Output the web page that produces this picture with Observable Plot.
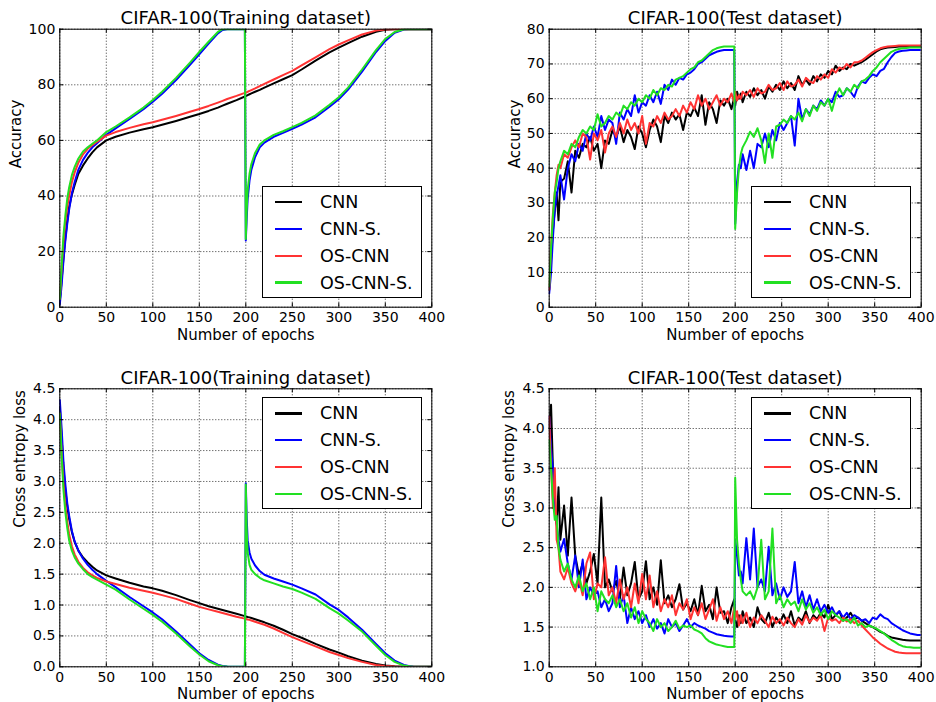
<!DOCTYPE html>
<html><head><meta charset="utf-8">
<script src="https://cdn.jsdelivr.net/npm/d3@7"></script>
<script src="https://cdn.jsdelivr.net/npm/@observablehq/plot@0.6"></script>
<style>
body{margin:0;background:#fff;}
#wrap{position:relative;width:936px;height:702px;overflow:hidden;background:#fff;font-family:"DejaVu Sans",sans-serif;}
.panel{position:absolute;width:468px;height:351px;}
.panel svg{overflow:visible;max-width:none;}
.legend{position:absolute;width:160px;height:112px;box-sizing:border-box;border:1px solid #000;background:#fff;}
.row{position:absolute;left:0;width:100%;height:0;}
.sw{position:absolute;left:12px;width:27px;height:2.5px;top:-1.25px;}
.lab{position:absolute;left:57px;top:-11px;font-size:17.5px;line-height:22px;color:#000;white-space:nowrap;font-family:"DejaVu Sans",sans-serif;}
#err{position:absolute;left:0;top:0;color:red;font-size:12px;}
</style>
</head><body><div id="wrap"></div>
<script>
// ---------- shared ----------
const seriesNames = ["CNN", "CNN-S.", "OS-CNN", "OS-CNN-S."];
const seriesColors = ["#000000", "#0000ff", "#ff3333", "#22e022"];
const xTicks = [0, 50, 100, 150, 200, 250, 300, 350, 400];
const accTrainTicks = [0, 20, 40, 60, 80, 100];
const accTestTicks = [0, 10, 20, 30, 40, 50, 60, 70, 80];
const lossTrainTicks = [0, 0.5, 1, 1.5, 2, 2.5, 3, 3.5, 4, 4.5];
const lossTestTicks = [1, 1.5, 2, 2.5, 3, 3.5, 4, 4.5];

// ---------- training epochs ----------
const epochsTrain = [0,2,4,6,8,10,13,16,20,25, 30,35,40,50,60,75,90,100,110,125,
  140,150,160,170,175,180,190,199,200,201, 202,204,206,210,215,220,230,240,250,260,
  275,290,300,310,325,340,350,360,370,375, 380,390,400];

// training accuracy
const trainAccCNN = [2,10,18,25,31,36,40.5,44,48,51, 53.5,55.7,57.5,60,61.3,62.8,64,64.7,65.6,67,
  68.5,69.5,70.6,71.8,72.5,73.2,74.5,75.8,76,76.1, 76.3,76.6,76.9,77.5,78.2,79,80.5,82,83.5,85.5,
  88.7,91.7,93.4,95,97.3,99.1,99.8,100,100,100, 100,100,100];
const trainAccCNNS = [1,8,17,24,30,35,41,45,49.5,53, 55.5,57.5,59,62,64.3,67.7,71.2,73.9,76.8,81.7,
  87.2,91,94.8,98.5,99.7,100,100,100,24,32, 39,45.5,49.5,54,57.5,59.2,61.3,62.7,64.2,65.7,
  68.3,72.1,74.8,78.3,84.7,91.8,95.8,98.7,99.9,100, 100,100,100];
const trainAccOSCNN = [3,14,24,31,36,40,45,48.5,52,55, 57,58.3,59.5,61.7,63,64.5,65.8,66.5,67.4,68.8,
  70.3,71.3,72.4,73.6,74.2,74.9,76,77.1,77.2,77.3, 77.5,77.8,78.1,78.7,79.5,80.3,81.9,83.5,85,87,
  89.9,92.8,94.5,96,98.1,99.5,99.9,100,100,100, 100,100,100];
const trainAccOSCNNS = [3,15,26,33,39,43,47.5,50.5,53.5,56, 57.5,58.8,60,63,65,68.3,71.8,74.5,77.5,82.5,
  88,91.8,95.5,99,100,100,100,100,24.5,35, 42,48,51.5,55.5,58.5,60,62,63.3,64.8,66.3,
  69,72.8,75.5,79,85.5,92.5,96.5,99,100,100, 100,100,100];

// training loss
const trainLossCNN = [4.2,3.7,3.2,2.85,2.6,2.4,2.18,2.02,1.88,1.77, 1.69,1.62,1.56,1.48,1.43,1.36,1.3,1.27,1.23,1.16,
  1.08,1.03,0.98,0.94,0.92,0.9,0.86,0.82,0.815,0.81, 0.805,0.8,0.79,0.77,0.745,0.72,0.665,0.6,0.53,0.47,
  0.37,0.28,0.23,0.17,0.1,0.045,0.022,0.008,0.002,0, 0,0,0];
const trainLossCNNS = [4.32,3.85,3.3,2.95,2.65,2.45,2.2,2.03,1.88,1.75, 1.65,1.57,1.5,1.39,1.29,1.13,0.98,0.88,0.77,0.57,
  0.36,0.22,0.11,0.035,0.015,0.006,0.001,0,2.97,2.4, 2.05,1.85,1.75,1.64,1.55,1.49,1.43,1.38,1.33,1.27,
  1.17,1.01,0.92,0.8,0.6,0.37,0.22,0.1,0.03,0.013, 0.005,0.001,0];
const trainLossOSCNN = [4.1,3.45,2.95,2.6,2.35,2.15,1.95,1.82,1.7,1.6, 1.53,1.48,1.44,1.38,1.34,1.28,1.23,1.2,1.16,1.1,
  1.02,0.97,0.93,0.89,0.87,0.85,0.81,0.78,0.775,0.77, 0.765,0.76,0.75,0.73,0.705,0.68,0.62,0.55,0.48,0.42,
  0.33,0.24,0.19,0.14,0.08,0.03,0.012,0.004,0.001,0, 0,0,0];
const trainLossOSCNNS = [4.1,3.4,2.85,2.5,2.25,2.05,1.88,1.77,1.67,1.58, 1.5,1.45,1.41,1.33,1.25,1.09,0.94,0.84,0.73,0.54,
  0.33,0.2,0.09,0.025,0.01,0.003,0,0,2.95,2.2, 1.85,1.65,1.57,1.5,1.44,1.4,1.35,1.3,1.26,1.2,
  1.1,0.95,0.86,0.75,0.57,0.34,0.19,0.08,0.02,0.008, 0.002,0,0];

// ---------- test epochs ----------
const epochsTest = [0,2,4,6,8,10,12,16,20,24, 28,32,36,40,44,48,52,56,60,64,
  68,72,76,80,84,88,92,96,100,104, 108,112,116,120,124,128,132,136,140,144,
  148,152,156,160,164,168,172,176,180,184, 188,192,196,199,200,202,204,206,208,212,
  216,220,224,228,232,236,240,244,248,252, 256,260,264,268,272,276,280,284,288,292,
  296,300,304,308,312,316,320,324,328,332, 336,340,344,348,352,356,360,364,368,372,
  376,380,384,388,392,396,400];

// test accuracy
const testAccCNN = [5,14,22,28,33,25,36,37,42,33, 45,43,47,46,49,45,47,40,48,47,
  51,49,52,47.5,51,49,45.5,52,50,46, 51,54,52,47.5,55,53,56,54,55.5,51,
  56,55,57.5,55,61,52.5,59,57,53,59.5, 58,60,57,60.5,58,62,60,61.5,59,62,
  60.5,63,61,62.5,60,63.5,62,64,62.5,65, 63,64.5,62.5,66.5,64,65.5,64,66.5,65,67,
  66,68,67,69.5,68,69,68.5,70,69.5,70, 70.5,71.2,72,72.8,73.6,74.2,74.5,74.7,74.8,74.9,
  75,75,75,75.1,75.1,75.1,75.1];
const testAccCNNS = [4,10,20,28,32,35,38,31,40,44, 42,47,45,50,48,52,49,55,51,54,
  53,47,56,54,57,55,61,56,59,58, 61,59,62,58.5,64,62.5,65.5,64,66,65.5,
  67,67.5,68.5,70,70.5,71.5,72.5,73,73.5,73.8, 74,74,74,74,24,36,41,40,44,39.5,
  45,40,47,46,50,46,51,48,53,51, 53,55,46.5,60,54,57,55.5,58,57,59.5,
  58,60,59,62,60.5,61,63,62,60.5,63.5, 65,64.5,66,67,66.5,68,68.6,70.5,72,73.2,
  73.6,73.8,73.9,74,74,74,74];
const testAccOSCNN = [5,18,27,33,38,41,40,44,43,46, 48,46,50,49,42.5,50,48,51,44.5,50,
  52,49,53,50,54,51,53,50,55,47, 53,52,55,53,56,54,55,57,55,58,
  56,59,57,61,58,60,57,59,61,58, 60,59,61.5,59,62,59.5,61,60,62,61,
  62.5,60.5,63,61.5,62,64,62.5,63,64.5,62.5, 65,63.5,64,65.5,63.5,66,65,64.5,66.5,65.5,
  67,66,68.5,67.5,69,68.5,70,69,70.5,70.5, 71,71.8,72.6,73.4,74,74.5,74.8,75,75.1,75.2,
  75.3,75.3,75.3,75.3,75.3,75.3,75.3];
const testAccOSCNNS = [6,17,26,33,36,40,42,45,44,47, 46,49,51,50,52,51,55.5,52,53,55,
  54,56,55,58,57,59,58,60,59,61, 60,62.5,61,63,62.5,64,63.5,65.5,66,66.5,
  67.5,68.5,69,70.5,71,72,73,74,74.5,74.8, 75,75,75,75,22.5,33,40,44,46,48,
  50.5,49,51.5,48,41.5,50,43,52,52.5,54, 53,55,54,56,53.5,57,55,58,56.5,59,
  58,60,56.5,60.5,63,61,63,62,64,63, 65,65.5,66.5,68,69,70.5,71.5,72.5,73.5,74,
  74.3,74.5,74.6,74.7,74.7,74.7,74.7];

// test loss
const testLossCNN = [4.0,4.3,3.5,3.0,2.8,3.26,2.6,3.03,2.4,3.13, 2.4,2.15,2.3,2.05,2.2,2.42,2.05,3.13,2.0,2.1,
  1.95,2.08,1.85,2.25,1.9,2.05,2.32,1.85,1.95,2.33, 1.85,2.0,1.78,2.34,1.8,1.9,1.75,1.85,2.04,1.72,
  1.8,1.7,1.85,1.65,2.02,1.7,1.78,1.6,2.0,1.68, 1.7,1.55,1.75,1.85,1.6,1.5,1.65,1.55,1.7,1.55,
  1.62,1.5,1.75,1.6,1.55,1.68,1.5,1.62,1.55,1.66, 1.55,1.7,1.52,1.62,1.58,1.7,1.55,1.65,1.6,1.68,
  1.62,1.78,1.6,1.65,1.7,1.58,1.62,1.68,1.6,1.62, 1.58,1.55,1.52,1.5,1.47,1.44,1.42,1.39,1.37,1.36,
  1.35,1.34,1.335,1.33,1.33,1.33,1.33];
const testLossCNNS = [4.15,3.75,3.5,3.0,2.8,2.6,2.45,2.61,2.3,2.1, 2.4,2.0,2.35,1.85,2.0,1.9,1.95,1.75,1.85,1.7,
  1.8,2.27,1.75,1.9,1.55,1.75,1.6,1.7,1.55,1.65, 1.5,1.6,1.48,1.55,1.42,1.6,1.5,1.55,1.45,1.52,
  1.6,1.5,1.55,1.52,1.5,1.48,1.45,1.43,1.41,1.4, 1.39,1.385,1.38,1.38,2.6,2.4,2.15,2.2,2.05,2.62,
  2.1,2.74,2.0,2.1,1.95,2.51,1.9,2.05,1.85,2.0, 1.88,1.95,2.32,1.8,1.95,1.75,1.9,1.72,1.85,1.7,
  1.78,1.68,1.75,1.65,1.7,1.62,1.68,1.6,1.65,1.62, 1.58,1.6,1.55,1.62,1.6,1.66,1.62,1.6,1.55,1.52,
  1.49,1.46,1.44,1.42,1.41,1.4,1.4];
const testLossOSCNN = [4.15,3.5,3.0,3.5,2.6,2.5,2.2,2.1,2.25,2.05, 1.95,2.1,1.9,2.3,2.44,1.85,2.05,2.0,2.38,1.9,
  2.0,1.8,2.1,1.85,2.0,1.75,2.05,1.8,2.17,1.85, 2.15,1.75,1.95,1.7,1.85,1.75,1.9,1.65,1.8,1.72,
  1.85,1.6,1.75,1.65,1.8,1.6,1.72,1.85,1.58,1.75, 1.6,1.7,1.55,1.75,1.6,1.7,1.52,1.65,1.55,1.68,
  1.5,1.62,1.55,1.65,1.58,1.5,1.63,1.55,1.6,1.52, 1.62,1.55,1.5,1.6,1.53,1.65,1.56,1.62,1.58,1.65,
  1.45,1.62,1.58,1.6,1.55,1.62,1.57,1.6,1.55,1.58, 1.52,1.47,1.42,1.37,1.33,1.29,1.26,1.23,1.21,1.19,
  1.18,1.175,1.17,1.17,1.17,1.17,1.17];
const testLossOSCNNS = [3.85,3.5,3.1,2.85,2.9,2.5,2.35,2.2,2.3,2.1, 2.0,2.15,1.95,2.05,1.85,2.0,1.7,1.95,1.85,1.8,
  1.9,1.75,1.85,1.7,1.8,1.62,1.75,1.55,1.7,1.6, 1.55,1.45,1.6,1.5,1.55,1.45,1.5,1.58,1.48,1.52,
  1.5,1.52,1.47,1.45,1.42,1.36,1.32,1.3,1.28,1.27, 1.26,1.25,1.25,1.25,3.38,2.6,2.3,2.1,1.95,1.9,
  1.95,1.85,2.0,2.6,1.85,1.95,2.74,1.8,1.9,1.75, 1.85,1.78,1.82,1.7,1.85,1.72,1.8,1.68,1.75,1.65,
  1.72,1.6,1.7,1.65,1.62,1.58,1.6,1.55,1.62,1.52, 1.55,1.5,1.52,1.5,1.48,1.45,1.42,1.38,1.34,1.31,
  1.28,1.26,1.25,1.245,1.24,1.24,1.24];

// ---------- drawing ----------
const wrap = document.getElementById("wrap");
const errs = [];
const fmt1 = d3.format(".1f");

function makePanel(cfg) {
  const rows = [];
  cfg.values.forEach((vals, k) => {
    if (vals.length !== cfg.epochs.length) errs.push(cfg.title + " " + seriesNames[k] + " len " + vals.length + "/" + cfg.epochs.length);
    vals.forEach((v, i) => rows.push({epoch: cfg.epochs[i], value: v, series: seriesNames[k]}));
  });
  const W = 468, H = 351;
  const fw = W - cfg.ml - cfg.mr, fh = H - cfg.mt - cfg.mb;
  const grid = {stroke: "#000", strokeOpacity: 1, strokeWidth: 0.8, strokeDasharray: "1,2"};
  const plot = Plot.plot({
    width: W, height: H,
    marginTop: cfg.mt, marginBottom: cfg.mb, marginLeft: cfg.ml, marginRight: cfg.mr,
    x: {domain: [0, 400]},
    y: {domain: cfg.yDomain},
    style: {fontFamily: "DejaVu Sans", fontSize: "14px", color: "#000", background: "#fff", overflow: "visible"},
    marks: [
      Plot.gridX(xTicks, grid),
      Plot.gridY(cfg.yTicks, grid),
      ...seriesNames.map((name, k) => Plot.line(rows.filter(r => r.series === name), {
        x: "epoch", y: "value", stroke: seriesColors[k], strokeWidth: 2, clip: true, curve: "linear"
      })),
      Plot.tickX(xTicks, {x: d => d, insetTop: fh - 4, stroke: "#000"}),
      Plot.tickX(xTicks, {x: d => d, insetBottom: fh - 4, stroke: "#000"}),
      Plot.tickY(cfg.yTicks, {y: d => d, insetRight: fw - 4, stroke: "#000"}),
      Plot.tickY(cfg.yTicks, {y: d => d, insetLeft: fw - 4, stroke: "#000"}),
      Plot.frame({stroke: "#000", strokeWidth: 1}),
      Plot.axisX(xTicks, {tickSize: 0, tickPadding: 5, label: null, fontSize: 14}),
      Plot.axisY(cfg.yTicks, {tickSize: 0, tickPadding: 4.5, label: null, tickFormat: cfg.yFmt, fontSize: 14}),
      Plot.text([cfg.title], {text: d => d, frameAnchor: "top", dy: cfg.titleDy, fontSize: 18, lineAnchor: "middle"}),
      Plot.text(["Number of epochs"], {text: d => d, frameAnchor: "bottom", dy: cfg.xlabDy, fontSize: 15, lineAnchor: "middle"}),
      Plot.text([cfg.ylabel], {text: d => d, frameAnchor: "left", dx: cfg.ylabDx, rotate: -90, fontSize: 15, lineAnchor: "middle"})
    ]
  });
  const div = document.createElement("div");
  div.className = "panel";
  div.style.left = cfg.left + "px";
  div.style.top = cfg.top + "px";
  div.appendChild(plot);
  wrap.appendChild(div);

  const lg = document.createElement("div");
  lg.className = "legend";
  lg.style.left = cfg.legLeft + "px";
  lg.style.top = cfg.legTop + "px";
  seriesNames.forEach((name, k) => {
    const row = document.createElement("div");
    row.className = "row";
    row.style.top = (15.3 + k * 26.9) + "px";
    const sw = document.createElement("div");
    sw.className = "sw";
    sw.style.background = seriesColors[k];
    const lab = document.createElement("div");
    lab.className = "lab";
    lab.textContent = name;
    row.appendChild(sw); row.appendChild(lab);
    lg.appendChild(row);
  });
  wrap.appendChild(lg);
}

makePanel({left: 0, top: 0, mt: 28.7, mb: 44.3, ml: 59.3, mr: 36.7,
  yDomain: [0, 100], yTicks: accTrainTicks, yFmt: d => String(d),
  title: "CIFAR-100(Training dataset)", ylabel: "Accuracy", titleDy: -11.4, xlabDy: 28.3, ylabDx: -43.3,
  epochs: epochsTrain, values: [trainAccCNN, trainAccCNNS, trainAccOSCNN, trainAccOSCNNS],
  legLeft: 262, legTop: 185.7});
makePanel({left: 468, top: 0, mt: 28.7, mb: 44.3, ml: 80.7, mr: 15.3,
  yDomain: [0, 80], yTicks: accTestTicks, yFmt: d => String(d),
  title: "CIFAR-100(Test dataset)", ylabel: "Accuracy", titleDy: -11.4, xlabDy: 28.3, ylabDx: -33.7,
  epochs: epochsTest, values: [testAccCNN, testAccCNNS, testAccOSCNN, testAccOSCNNS],
  legLeft: 751, legTop: 185.7});
makePanel({left: 0, top: 351, mt: 37.3, mb: 35.7, ml: 59.3, mr: 36.7,
  yDomain: [0, 4.5], yTicks: lossTrainTicks, yFmt: fmt1,
  title: "CIFAR-100(Training dataset)", ylabel: "Cross entropy loss", titleDy: -10.6, xlabDy: 27.7, ylabDx: -39.3,
  epochs: epochsTrain, values: [trainLossCNN, trainLossCNNS, trainLossOSCNN, trainLossOSCNNS],
  legLeft: 262, legTop: 397});
makePanel({left: 468, top: 351, mt: 37.3, mb: 35.7, ml: 80.7, mr: 15.3,
  yDomain: [1, 4.5], yTicks: lossTestTicks, yFmt: fmt1,
  title: "CIFAR-100(Test dataset)", ylabel: "Cross entropy loss", titleDy: -10.6, xlabDy: 27.7, ylabDx: -39.7,
  epochs: epochsTest, values: [testLossCNN, testLossCNNS, testLossOSCNN, testLossOSCNNS],
  legLeft: 751, legTop: 397});

if (errs.length) {
  const e = document.createElement("div");
  e.id = "err"; e.textContent = errs.join(" | ");
  wrap.appendChild(e);
}
</script></body></html>
